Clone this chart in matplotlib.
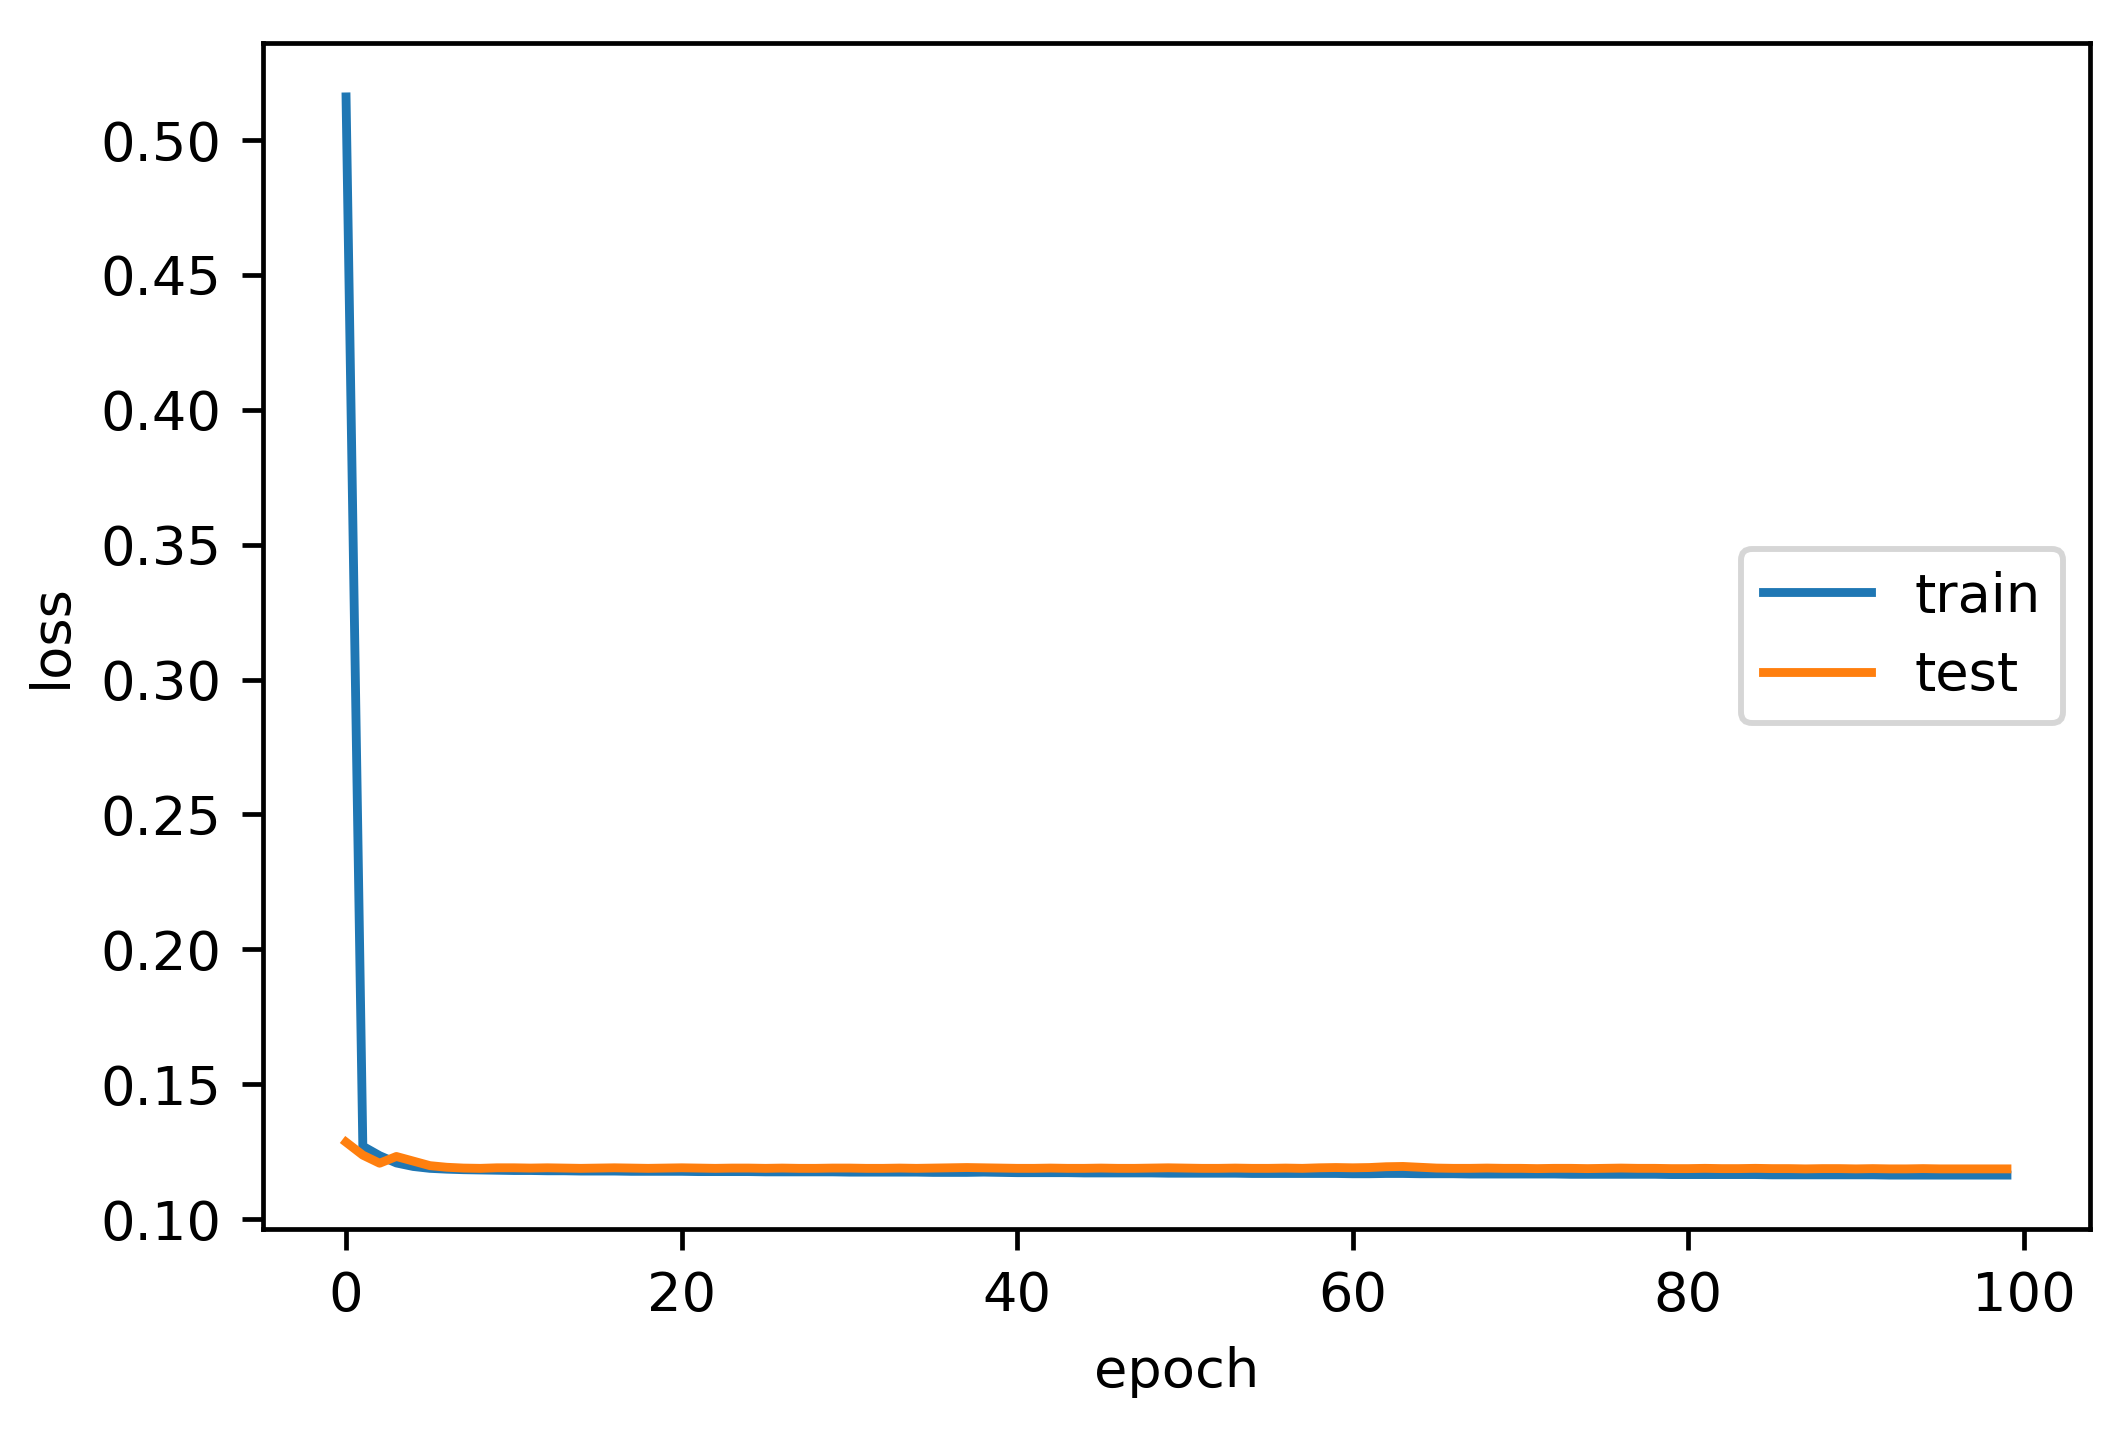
import numpy as np
import matplotlib
matplotlib.use('Agg')
import matplotlib.pyplot as plt

# loss history
train_loss = [0.516, 0.1270, 0.1235, 0.1208, 0.1195, 0.1188, 0.1185, 0.1183, 0.1182, 0.1181,
              0.1180, 0.1180, 0.1179, 0.1179, 0.1178, 0.1178, 0.1178, 0.1177, 0.1177, 0.1177,
              0.1177, 0.1176, 0.1176, 0.1176, 0.1176, 0.1175, 0.1175, 0.1175, 0.1175, 0.1175,
              0.1174, 0.1174, 0.1174, 0.1174, 0.1174, 0.1173, 0.1173, 0.1173, 0.1174, 0.1173,
              0.1172, 0.1172, 0.1172, 0.1172, 0.1171, 0.1171, 0.1171, 0.1171, 0.1171, 0.1170,
              0.1170, 0.1170, 0.1170, 0.1170, 0.1169, 0.1169, 0.1169, 0.1169, 0.1169, 0.1169,
              0.1168, 0.1168, 0.1169, 0.1169, 0.1168, 0.1168, 0.1168, 0.1167, 0.1167, 0.1167,
              0.1167, 0.1167, 0.1167, 0.1166, 0.1166, 0.1166, 0.1166, 0.1166, 0.1166, 0.1165,
              0.1165, 0.1165, 0.1165, 0.1165, 0.1165, 0.1164, 0.1164, 0.1164, 0.1164, 0.1164,
              0.1164, 0.1164, 0.1163, 0.1163, 0.1163, 0.1163, 0.1163, 0.1163, 0.1163, 0.1163]
test_loss = [0.1285, 0.1237, 0.1207, 0.1232, 0.1215, 0.1198, 0.1192, 0.1189, 0.1188, 0.1190,
             0.1190, 0.1189, 0.1190, 0.1189, 0.1188, 0.1189, 0.1190, 0.1189, 0.1188, 0.1189,
             0.1190, 0.1189, 0.1188, 0.1189, 0.1189, 0.1188, 0.1189, 0.1188, 0.1188, 0.1189,
             0.1189, 0.1188, 0.1188, 0.1189, 0.1188, 0.1189, 0.1190, 0.1191, 0.1190, 0.1189,
             0.1188, 0.1188, 0.1189, 0.1188, 0.1188, 0.1189, 0.1188, 0.1188, 0.1189, 0.1190,
             0.1189, 0.1188, 0.1188, 0.1189, 0.1188, 0.1188, 0.1189, 0.1188, 0.1190, 0.1191,
             0.1190, 0.1191, 0.1194, 0.1195, 0.1192, 0.1189, 0.1188, 0.1188, 0.1189, 0.1188,
             0.1188, 0.1187, 0.1188, 0.1188, 0.1187, 0.1188, 0.1189, 0.1188, 0.1188, 0.1187,
             0.1187, 0.1188, 0.1187, 0.1187, 0.1188, 0.1187, 0.1187, 0.1186, 0.1187, 0.1187,
             0.1186, 0.1187, 0.1186, 0.1186, 0.1187, 0.1186, 0.1186, 0.1186, 0.1186, 0.1186]

plt.rcParams['font.size'] = 9.2

dpi = 425
fig = plt.figure(figsize=(2113 / dpi, 1434 / dpi), dpi=dpi)
ax = fig.add_axes([263 / 2113, 1 - 1229 / 1434, 1827 / 2113, 1186 / 1434])

ax.plot(train_loss, label='train')
ax.plot(test_loss, label='test')
ax.set_xlabel('epoch')
ax.set_ylabel('loss')
ax.legend(loc='center right')

fig.savefig('out.png', dpi=dpi)
